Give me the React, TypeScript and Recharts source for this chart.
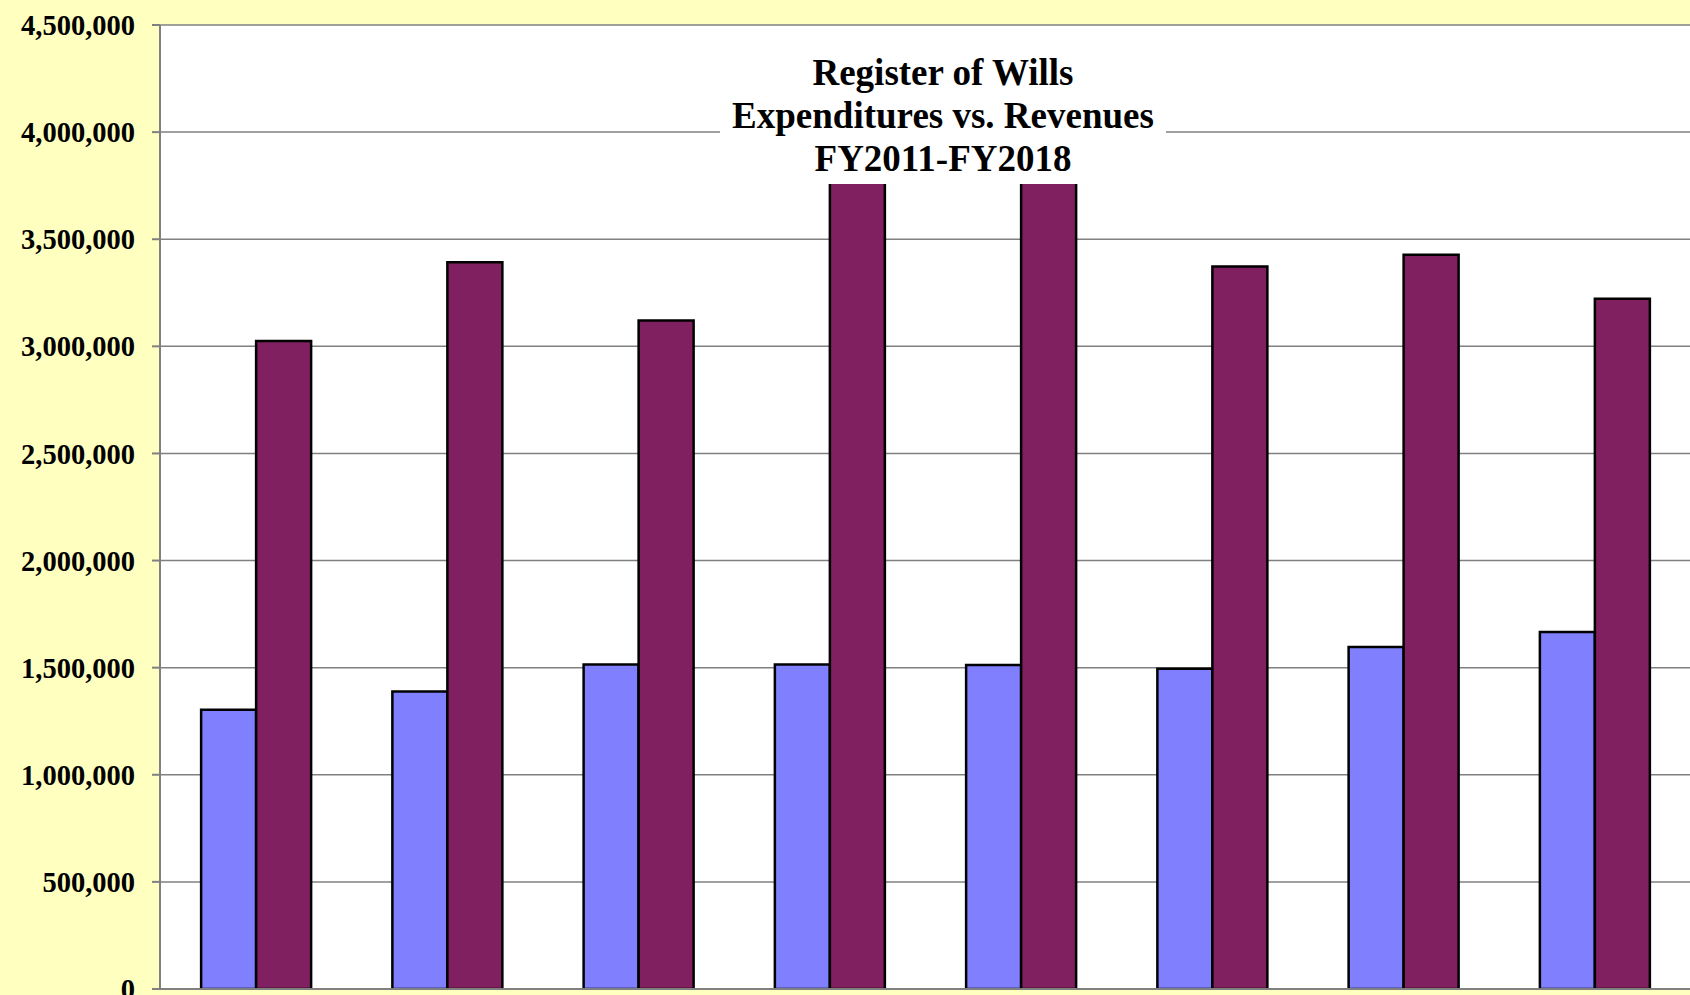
import { BarChart, Bar, XAxis, YAxis, CartesianGrid } from 'recharts'

const years = ['FY2011', 'FY2012', 'FY2013', 'FY2014', 'FY2015', 'FY2016', 'FY2017', 'FY2018']
const expenditures = [1304000, 1389000, 1515000, 1515000, 1513000, 1495000, 1596000, 1666000]
const revenues = [3025000, 3393000, 3121000, 4150000, 4100000, 3373000, 3428000, 3222000]
const yTicks = [0, 500000, 1000000, 1500000, 2000000, 2500000, 3000000, 3500000, 4000000, 4500000]
const boundaryTicks = [0, 1, 2, 3, 4, 5, 6, 7, 8]
const titleLines = ['Register of Wills', 'Expenditures vs. Revenues', 'FY2011-FY2018']

const data = years.map((year, i) => ({
  year,
  expenditures: expenditures[i],
  revenues: revenues[i],
}))

const serif = '"Liberation Serif", "Times New Roman", serif'

export default function App() {
  return (
    <div style={{ position: 'absolute', left: 0, top: 0, width: 1690, height: 995, background: '#FFFFC0', overflow: 'hidden' }}>
      <BarChart
        width={1690}
        height={995}
        data={data}
        margin={{ top: 25, right: 0, bottom: 0, left: 0 }}
        barGap={0}
        barCategoryGap="21.5%"
      >
        <CartesianGrid xAxisId="cat" vertical={false} fill="#ffffff" stroke="#808080" strokeWidth={1.5} />
        <XAxis xAxisId="cat" dataKey="year" hide />
        {/* tick marks sit on the category boundaries, so use a plain number axis for them */}
        <XAxis
          xAxisId="bnd"
          type="number"
          domain={[0, 8]}
          ticks={boundaryTicks}
          tick={false}
          tickSize={6}
          height={6}
          stroke="#808080"
          strokeWidth={2}
          tickLine={{ stroke: '#000', strokeWidth: 1 }}
        />
        <YAxis
          width={160}
          domain={[0, 4500000]}
          ticks={yTicks}
          allowDataOverflow
          interval={0}
          tickSize={8}
          tickMargin={17}
          stroke="#808080"
          strokeWidth={2}
          tick={{ fill: '#000', fontFamily: serif, fontWeight: 'bold', fontSize: 28.5 }}
          tickFormatter={(v: number) => v.toLocaleString('en-US')}
        />
        <Bar xAxisId="cat" dataKey="expenditures" fill="#8080FF" stroke="#000" strokeWidth={2.5} isAnimationActive={false} />
        <Bar xAxisId="cat" dataKey="revenues" fill="#802060" stroke="#000" strokeWidth={2.5} isAnimationActive={false} />
      </BarChart>
      <div
        style={{
          position: 'absolute',
          left: 720,
          top: 44,
          width: 446,
          height: 140,
          background: '#ffffff',
          fontFamily: serif,
          fontWeight: 'bold',
          fontSize: 37,
          lineHeight: '43px',
          textAlign: 'center',
          color: '#000',
          paddingTop: 7,
          boxSizing: 'border-box',
        }}
      >
        {titleLines.map((t) => (
          <div key={t}>{t}</div>
        ))}
      </div>
    </div>
  )
}
